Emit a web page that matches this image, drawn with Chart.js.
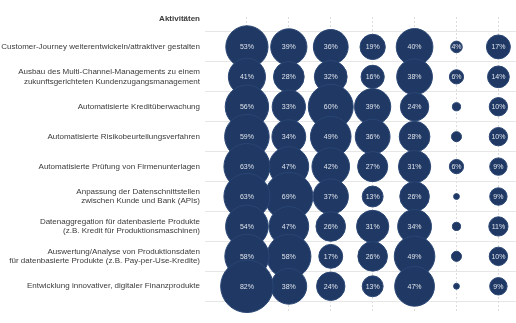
<!DOCTYPE html>
<html>
<head>
<meta charset="utf-8">
<script src="https://cdn.jsdelivr.net/npm/chart.js@4.4.1/dist/chart.umd.min.js"></script>
<style>
  html, body { margin: 0; padding: 0; background: #fff; }
  #wrap { width: 516px; height: 323px; position: relative; }
</style>
</head>
<body>
<div id="wrap"><canvas id="bubbleChart"></canvas></div>
<script>
// row labels (top to bottom)
var activities = [
  "Customer-Journey weiterentwickeln/attraktiver gestalten",
  ["Ausbau des Multi-Channel-Managements zu einem", "zukunftsgerichteten Kundenzugangsmanagement"],
  "Automatisierte Kreditüberwachung",
  "Automatisierte Risikobeurteilungsverfahren",
  "Automatisierte Prüfung von Firmenunterlagen",
  ["Anpassung der Datenschnittstellen", "zwischen Kunde und Bank (APIs)"],
  ["Datenaggregation für datenbasierte Produkte", "(z.B. Kredit für Produktionsmaschinen)"],
  ["Auswertung/Analyse von Produktionsdaten", "für datenbasierte Produkte (z.B. Pay-per-Use-Kredite)"],
  "Entwicklung innovativer, digitaler Finanzprodukte"
];
var headerLabel = "Aktivitäten";

// one array per column, values in percent
var col1 = [53, 41, 56, 59, 63, 63, 54, 58, 82];
var col2 = [39, 28, 33, 34, 47, 69, 47, 58, 38];
var col3 = [36, 32, 60, 49, 42, 37, 26, 17, 24];
var col4 = [19, 16, 39, 36, 27, 13, 31, 26, 13];
var col5 = [40, 38, 24, 28, 31, 26, 34, 49, 47];
var col6 = [4, 6, 2, 3, 6, 1, 2, 3, 1];
var col7 = [17, 14, 10, 10, 9, 9, 11, 10, 9];

var columns = [col1, col2, col3, col4, col5, col6, col7];

var navy = "#1f3864";

var datasets = columns.map(function(vals, c) {
  return {
    label: "Spalte " + (c + 1),
    data: vals.map(function(v, r) {
      return { x: c + 1, y: r + 1, r: 2.9 * Math.sqrt(v), v: v };
    }),
    backgroundColor: navy,
    borderColor: "#2a4674",
    borderWidth: 1,
    hoverRadius: 0,
    clip: false
  };
});

// percent labels inside the bubbles
var bubbleLabels = {
  id: "bubbleLabels",
  afterDatasetsDraw: function(chart) {
    var ctx = chart.ctx;
    ctx.save();
    ctx.font = "7px 'Liberation Sans', Arial, sans-serif";
    ctx.fillStyle = "#dde2ea";
    ctx.textAlign = "center";
    ctx.textBaseline = "middle";
    chart.data.datasets.forEach(function(ds, i) {
      var meta = chart.getDatasetMeta(i);
      meta.data.forEach(function(el, j) {
        var v = ds.data[j].v;
        if (v >= 4) ctx.fillText(v + "%", el.x, el.y + 0.5);
      });
    });
    ctx.restore();
  }
};

var ctx = document.getElementById("bubbleChart");

var chart = new Chart(ctx, {
  type: "bubble",
  data: { datasets: datasets },
  options: {
    responsive: true,
    maintainAspectRatio: false,
    animation: false,
    events: [],
    layout: { autoPadding: false, padding: { top: 17, bottom: 6, left: 0, right: 0 } },
    plugins: {
      legend: { display: false },
      tooltip: { enabled: false }
    },
    scales: {
      x: {
        type: "linear",
        min: 0,
        max: 7.42,
        afterBuildTicks: function(scale) {
          scale.ticks = [1, 2, 3, 4, 5, 6, 7].map(function(v) { return { value: v }; });
        },
        afterFit: function(scale) { scale.height = 0; },
        ticks: { display: false },
        grid: {
          color: "#dcdcdc",
          lineWidth: 1,
          drawTicks: false
        },
        border: { display: false, dash: [2, 2] }
      },
      y: {
        type: "linear",
        reverse: true,
        min: 0,
        max: 9.9,
        afterBuildTicks: function(scale) {
          var t = [{ value: 0.05 }];
          for (var i = 1; i <= activities.length; i++) t.push({ value: i });
          scale.ticks = t;
        },
        afterFit: function(scale) { scale.width = 205; },
        ticks: {
          padding: 5,
          color: "#3a3a3a",
          font: function(c) {
            if (c.index === 0) return { family: "'Liberation Sans', Arial, sans-serif", size: 8, weight: "bold", lineHeight: 1.2 };
            return { family: "'Liberation Sans', Arial, sans-serif", size: 8, lineHeight: 1.17 };
          },
          callback: function(value, index) {
            if (index === 0) return headerLabel;
            return activities[index - 1];
          }
        },
        grid: { display: false, drawTicks: false },
        border: { display: false }
      },
      yGrid: {
        type: "linear",
        position: "left",
        reverse: true,
        min: 0,
        max: 9.9,
        afterBuildTicks: function(scale) {
          var t = [];
          for (var i = 0; i <= activities.length; i++) t.push({ value: i + 0.5 });
          scale.ticks = t;
        },
        afterFit: function(scale) { scale.width = 0; },
        ticks: { display: false },
        grid: { color: "#e6e6e6", lineWidth: 1, drawTicks: false },
        border: { display: false }
      }
    }
  },
  plugins: [bubbleLabels]
});
</script>
</body>
</html>
